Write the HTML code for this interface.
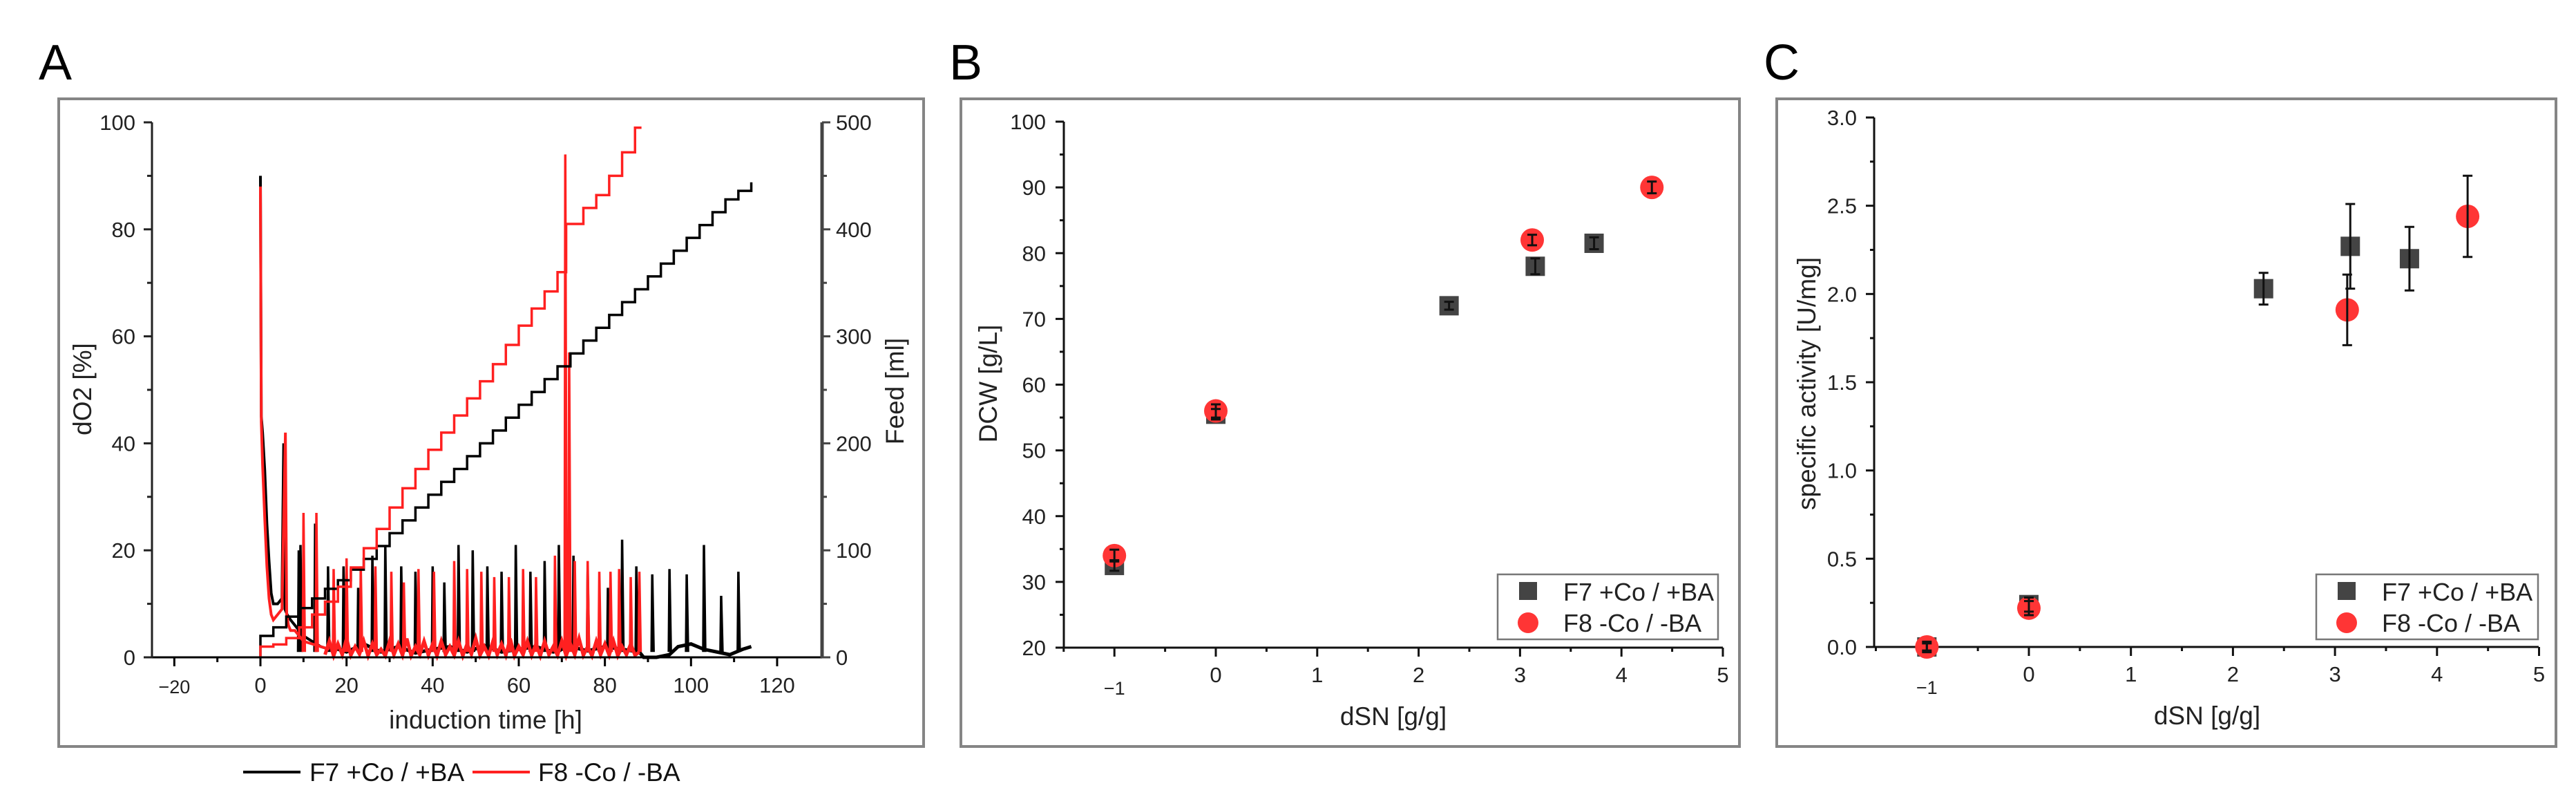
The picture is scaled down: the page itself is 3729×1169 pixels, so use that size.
<!DOCTYPE html>
<html><head><meta charset="utf-8">
<style>
html,body{margin:0;padding:0;background:#fff;}
svg{display:block;font-family:"Liberation Sans",Arial,sans-serif;}
</style></head>
<body>
<svg id="fig" width="3729" height="1169" viewBox="0 0 3729 1169">
<rect x="0" y="0" width="3729" height="1169" fill="#fff"/>
<text x="56" y="115" font-size="72" font-family="Liberation Sans, sans-serif">A</text>
<text x="1374" y="115" font-size="72">B</text>
<text x="2553" y="115" font-size="72">C</text>
<rect x="85" y="143" width="1252" height="937" fill="none" stroke="#858585" stroke-width="4"/>
<rect x="1391" y="143" width="1127" height="937" fill="none" stroke="#858585" stroke-width="4"/>
<rect x="2572" y="143" width="1128" height="937" fill="none" stroke="#858585" stroke-width="4"/>
<g id="gA"></g>
<g id="gB"></g>
<g id="gC"></g>
<g>
<line x1="352" y1="1117" x2="435" y2="1117" stroke="#000" stroke-width="4"/>
<text x="448" y="1130" font-size="37" fill="#111">F7 +Co / +BA</text>
<line x1="684" y1="1117" x2="767" y2="1117" stroke="#ff2020" stroke-width="4"/>
<text x="779" y="1130" font-size="37" fill="#111">F8 -Co / -BA</text>
</g>
</svg>
<script>
// ---------- Panel A data ----------
const feedTimesF7 = [0,3,6,9,12,15,18,21,24,27,30,33,36,39,42,45,48,51,54,57,60,63,66,69,72,75,78,81,84,87,90,93,96,99,102,105,108,111,114];
const feedF7 = [20,28,38,46,55,64,72,82,92,104,116,128,140,152,164,176,188,200,212,224,236,248,260,272,284,296,308,320,332,344,356,368,380,392,404,416,428,436,444];
const feedTimesF8 = [0,3,6,9,12,15,18,21,24,27,30,33,36,39,42,45,48,51,54,57,60,63,66,69,71,75,78,81,84,87];
const feedF8 = [10,12,18,28,40,52,66,84,102,120,140,158,176,194,210,226,242,258,274,292,310,326,342,360,405,420,432,450,472,495];
const decayTimesF7 = [0,0.2,0.5,1,1.5,2,2.5,3,4,5,5.4,5.7,6.2,7,8,9,10,12,14,16];
const decayF7 = [90,45,42,35,25,18,12,10,10,11,40,9,8,7,6,5,4,3,2,1.5];
const decayTimesF8 = [0,0.2,0.5,1,1.5,2,2.5,3,4,5,5.8,6.1,6.5,7,8,9,10,12,14,16];
const decayF8 = [88,44,36,26,17,11,8,7,8,9,42,8,6,5,5,4,3,2.5,2,1.5];
const spikeTimesF7 = [8.9,9.3,12.7,15.7,19.3,22.7,26,29,32.7,36,40,42.7,46,49.3,52.7,56,59.3,62.7,66,69.3,72.7,76,80.7,84,87.3,91,95,99,103,107,111];
const spikeF7 = [20,21,25,17,17,13,19,21,17,16,17,14,21,20,17,16,21,16,18,21,19,16,13,22,17,15.5,16.5,15.5,21,11.5,16];
const spikeTimesF8 = [10,13,17,20,23.3,26.7,30.4,33.3,36.7,40.3,45,48,51.3,54.3,57.7,61,64,68.4,70.8,71.7,73,76,78.7,81.3,83.3,86,88];
const spikeF8 = [27,27,16.5,18.5,17,17,16,14,16.5,16,18,16.5,16,15,15,16.5,15,19,94,57,18,18,16,16,16.5,15,16];
const noiseTimesF7 = [16,20,24,28,32,36,40,44,48,52,56,60,64,68,72,76,80,84,88,89,92,95,97,100,103,106,109,112,114];
const noiseF7 = [2,1,2.5,1,2,0.8,1.5,2,1,2.2,1,1.5,2,1,2,1.2,2,1.5,1,0,0,0.5,2,2.5,1.5,1,0.5,1.5,2];
const noiseTimesF8 = [15,16,17,18,19,20,21,22,23,24,25,26,27,28,29,30,31,32,33,34,35,36,37,38,39,40,41,42,43,44,45,46,47,48,49,50,51,52,53,54,55,56,57,58,59,60,61,62,63,64,65,66,67,68,69,70,71,72,73,74,75,76,77,78,79,80,81,82,83,84,85,86,87,88];
const noiseF8 = [0.5,3,0.3,2.5,0.5,3.5,0.4,2,0.6,3,0.3,2.5,0.5,1.5,0.3,3,0.5,2.5,0.4,3.5,0.3,2,0.5,3,0.4,2.5,0.3,3,0.5,2,0.4,3,0.3,2.5,0.6,3.5,0.4,2,0.3,3,0.5,2.5,0.4,3.5,0.3,2,0.5,3,0.4,2.5,0.3,3,0.5,2,0.4,3,0.3,2.5,0.5,3.5,0.4,2,0.3,3,0.5,2.5,0.4,3,0.3,2,0.5,2.5,0.4,1];
const xTicksA = [-20,0,20,40,60,80,100,120];
const xTickLabelsA = ["\u221220","0","20","40","60","80","100","120"];
const yTicksA = [0,20,40,60,80,100];
const yTicksFeed = [0,100,200,300,400,500];

// ---------- Panel B data ----------
const dsnF7 = [-1,0,2.3,3.15,3.73];
const dcwF7 = [32.5,55.5,72,78,81.5];
const dcwErrF7 = [0.8,0.8,0.6,1.2,0.9];
const dsnF8 = [-1,0,3.12,4.3];
const dcwF8 = [34,56,82,90];
const dcwErrF8 = [0.9,1.0,0.8,0.9];
const yTicksB = [20,30,40,50,60,70,80,90,100];
const xTicksBC = [-1,0,1,2,3,4,5];
const xTickLabelsBC = ["\u22121","0","1","2","3","4","5"];

// ---------- Panel C data ----------
const actF7 = [0,0.24,2.03,2.27,2.2];
const actErrF7 = [0.02,0.04,0.09,0.24,0.18];
const actF8 = [0,0.22,1.91,2.44];
const actErrF8 = [0.03,0.04,0.2,0.23];
const yTicksC = [0,0.5,1.0,1.5,2.0,2.5,3.0];
const yTickLabelsC = ["0.0","0.5","1.0","1.5","2.0","2.5","3.0"];

const NS = "http://www.w3.org/2000/svg";
function mk(parent, tag, attrs, txt){
  const e = document.createElementNS(NS, tag);
  for (const k in attrs) e.setAttribute(k, attrs[k]);
  if (txt !== undefined) e.textContent = txt;
  parent.appendChild(e);
  return e;
}
const gA = document.getElementById('gA');
const gB = document.getElementById('gB');
const gC = document.getElementById('gC');

// ---------- Panel A ----------
const xA = t => 377 + t * 6.233;
const yL = v => 951 - v * 7.74;
const yR = v => 951 - v * 1.548;
const AX0 = 220, AX1 = 1190;

function stepPath(ts, vs, tEnd){
  let d = '';
  for (let i = 0; i < ts.length; i++){
    const x = xA(ts[i]), y = yR(vs[i]);
    d += (i === 0 ? 'M' + x + ',' + yR(0) + 'L' + x + ',' + y : 'L' + x + ',' + yR(vs[i-1]) + 'L' + x + ',' + y);
  }
  d += 'L' + xA(tEnd) + ',' + yR(vs[vs.length-1]);
  return d;
}
function linePath(ts, vs){
  return ts.map((t,i)=>(i?'L':'M') + xA(t) + ',' + yL(vs[i])).join('');
}
function spikePath(ts, vs, base){
  return ts.map((t,i)=>'M' + (xA(t)-1) + ',' + yL(base) + 'L' + xA(t) + ',' + yL(vs[i]) + 'L' + (xA(t)+2) + ',' + yL(base)).join('');
}
let e;
e = mk(gA, 'path', {d: linePath(noiseTimesF7, noiseF7), fill:'none', stroke:'#000', 'stroke-width':5});


e = mk(gA, 'path', {d: linePath(decayTimesF7, decayF7), fill:'none', stroke:'#000', 'stroke-width':4});


e = mk(gA, 'path', {d: spikePath(spikeTimesF7, spikeF7, 1), fill:'none', stroke:'#000', 'stroke-width':3.5});


e = mk(gA, 'path', {d: linePath(noiseTimesF8, noiseF8), fill:'none', stroke:'#ff2020', 'stroke-width':5});


e = mk(gA, 'path', {d: linePath(decayTimesF8, decayF8), fill:'none', stroke:'#ff2020', 'stroke-width':4});


e = mk(gA, 'path', {d: spikePath(spikeTimesF8, spikeF8, 1), fill:'none', stroke:'#ff2020', 'stroke-width':3.5});


e = mk(gA, 'path', {d: stepPath(feedTimesF7, feedF7, 114), fill:'none', stroke:'#000', 'stroke-width':3.5});


e = mk(gA, 'path', {d: stepPath(feedTimesF8, feedF8, 88.5), fill:'none', stroke:'#ff2020', 'stroke-width':3.5});



e = mk(gA, 'line', {x1:AX0, y1:yL(0), x2:AX1, y2:yL(0), stroke:'#000', 'stroke-width':3});


e = mk(gA, 'line', {x1:AX0, y1:yL(0)+1, x2:AX0, y2:yL(100), stroke:'#222', 'stroke-width':3});


e = mk(gA, 'line', {x1:AX1, y1:yL(0)+1, x2:AX1, y2:yL(100), stroke:'#444', 'stroke-width':5});


for (let v = 0; v <= 100; v += 10){
  const maj = v % 20 === 0;
  e = mk(gA, 'line', {x1:AX0 - (maj?12:7), y1:yL(v), x2:AX0, y2:yL(v), stroke:'#222', 'stroke-width':3});
  
  
}
yTicksA.forEach(v=>{
  e = mk(gA, 'text', {x:196, y:yL(v)+11, 'font-size':31, 'text-anchor':'end', fill:'#222'}, String(v));
  
  
});
for (let v = 0; v <= 500; v += 50){
  const maj = v % 100 === 0;
  e = mk(gA, 'line', {x1:AX1, y1:yR(v), x2:AX1 + (maj?12:7), y2:yR(v), stroke:'#444', 'stroke-width':3});
  
  
}
yTicksFeed.forEach(v=>{
  e = mk(gA, 'text', {x:1210, y:yR(v)+11, 'font-size':31, fill:'#222'}, String(v));
  
  
});
for (let t = -20; t <= 120; t += 10){
  const maj = t % 20 === 0;
  e = mk(gA, 'line', {x1:xA(t), y1:yL(0), x2:xA(t), y2:yL(0) + (maj?13:7), stroke:'#000', 'stroke-width':3});
  
  
}
xTicksA.forEach((t,i)=>{
  e = mk(gA, 'text', {x:xA(t), y:i===0?1003:1002, 'font-size':i===0?27:31, 'text-anchor':'middle', fill:'#222'}, xTickLabelsA[i]);
  
  
});
e = mk(gA, 'text', {x:703, y:1054, 'font-size':37, 'text-anchor':'middle', fill:'#222'}, 'induction time [h]');


e = mk(gA, 'text', {x:0, y:0, 'font-size':37, 'text-anchor':'middle', fill:'#222', transform:'translate(132,563) rotate(-90)'}, 'dO2 [%]');


e = mk(gA, 'text', {x:0, y:0, 'font-size':37, 'text-anchor':'middle', fill:'#222', transform:'translate(1308,566) rotate(-90)'}, 'Feed [ml]');



// ---------- scatter panels ----------
function scatterPanel(g, cfg){
  const {x0, xPerUnit, axL, axR, yBot, yTop, yMin, yMax, yTicks, yLabels, minorStep, labelRight, title, titleX, titleY, xTitleX, legend, f7, f8, e7, e8, p} = cfg;
  const sx = v => x0 + v * xPerUnit;
  const sy = v => yBot - (v - yMin) / (yMax - yMin) * (yBot - yTop);
  let el;
  el = mk(g, 'line', {x1:axL, y1:yBot, x2:axR, y2:yBot, stroke:'#111', 'stroke-width':3});
  
  
  el = mk(g, 'line', {x1:axL, y1:yBot+1, x2:axL, y2:yTop, stroke:'#111', 'stroke-width':3});
  
  
  for (let v = yMin; v <= yMax + 1e-9; v += minorStep){
    const k = Math.round((v - yMin) / minorStep);
    const maj = k % 2 === 0;
    el = mk(g, 'line', {x1:axL - (maj?12:6), y1:sy(v), x2:axL, y2:sy(v), stroke:'#111', 'stroke-width':3});
    
    
  }
  yTicks.forEach((v,i)=>{
    el = mk(g, 'text', {x:labelRight, y:sy(v)+11, 'font-size':31, 'text-anchor':'end', fill:'#222'}, yLabels[i]);
    
    
  });
  for (let v = -1.5; v <= 5.001; v += 0.5){
    const maj = Math.abs(v - Math.round(v)) < 1e-6;
    el = mk(g, 'line', {x1:sx(v), y1:yBot, x2:sx(v), y2:yBot + (maj?13:6), stroke:'#111', 'stroke-width':3});
    
    
  }
  xTicksBC.forEach((v,i)=>{
    el = mk(g, 'text', {x:sx(v), y:i===0?yBot+68:yBot+50, 'font-size':i===0?27:31, 'text-anchor':'middle', fill:'#222'}, xTickLabelsBC[i]);
    
    
  });
  el = mk(g, 'text', {x:xTitleX, y:yBot+112, 'font-size':37, 'text-anchor':'middle', fill:'#222'}, 'dSN [g/g]');
  
  
  el = mk(g, 'text', {x:0, y:0, 'font-size':37, 'text-anchor':'middle', fill:'#222', transform:'translate(' + titleX + ',' + titleY + ') rotate(-90)'}, title);
  
  
  f7.x.forEach((v,i)=>{
    const cx = sx(v), cy = sy(f7.y[i]);
    el = mk(g, 'rect', {x:cx-14, y:cy-14, width:28, height:28, fill:'#444'});
    
    
  });
  f8.x.forEach((v,i)=>{
    const cx = sx(v), cy = sy(f8.y[i]);
    el = mk(g, 'circle', {cx:cx, cy:cy, r:17, fill:'#ff3535'});
    
    
  });
  [[f7, e7], [f8, e8]].forEach(([s, er], si)=>{
    s.x.forEach((v,i)=>{
      const cx = sx(v), y1 = sy(s.y[i] + er[i]), y2 = sy(s.y[i] - er[i]);
      el = mk(g, 'path', {d:'M'+cx+','+y1+'L'+cx+','+y2+'M'+(cx-7)+','+y1+'L'+(cx+7)+','+y1+'M'+(cx-7)+','+y2+'L'+(cx+7)+','+y2, stroke:'#111', 'stroke-width':3, fill:'none'});
      
      
    });
  });
  const L = legend;
  const lg = mk(g, 'g', {});
  
  
  el = mk(lg, 'rect', {x:L.x, y:831, width:L.w, height:94, fill:'#fff', stroke:'#777', 'stroke-width':2.5});
  
  
  el = mk(lg, 'rect', {x:L.mx-13, y:842, width:26, height:26, fill:'#444'});
  
  
  el = mk(lg, 'circle', {cx:L.mx, cy:901, r:15, fill:'#ff3535'});
  
  
  el = mk(lg, 'text', {x:L.tx, y:869, 'font-size':36, fill:'#222'}, 'F7 +Co / +BA');
  
  
  el = mk(lg, 'text', {x:L.tx, y:914, 'font-size':36, fill:'#222'}, 'F8 -Co / -BA');
  
  
}
scatterPanel(gB, {p:'b', x0:1760, xPerUnit:146.8, axL:1540, axR:2494, yBot:937, yTop:176, yMin:20, yMax:100,
  yTicks:yTicksB, yLabels:yTicksB.map(String), minorStep:5, labelRight:1514,
  title:'DCW [g/L]', titleX:1443, titleY:555, xTitleX:2017,
  legend:{x:2168, w:319, mx:2212, tx:2263},
  f7:{x:dsnF7, y:dcwF7}, f8:{x:dsnF8, y:dcwF8}, e7:dcwErrF7, e8:dcwErrF8});
scatterPanel(gC, {p:'c', x0:2937, xPerUnit:147.7, axL:2713, axR:3675, yBot:936, yTop:170, yMin:0, yMax:3,
  yTicks:yTicksC, yLabels:yTickLabelsC, minorStep:0.25, labelRight:2688,
  title:'specific activity [U/mg]', titleX:2628, titleY:555, xTitleX:3195,
  legend:{x:3353, w:321, mx:3397, tx:3448},
  f7:{x:dsnF7, y:actF7}, f8:{x:dsnF8, y:actF8}, e7:actErrF7, e8:actErrF8});
</script>
</body></html>
